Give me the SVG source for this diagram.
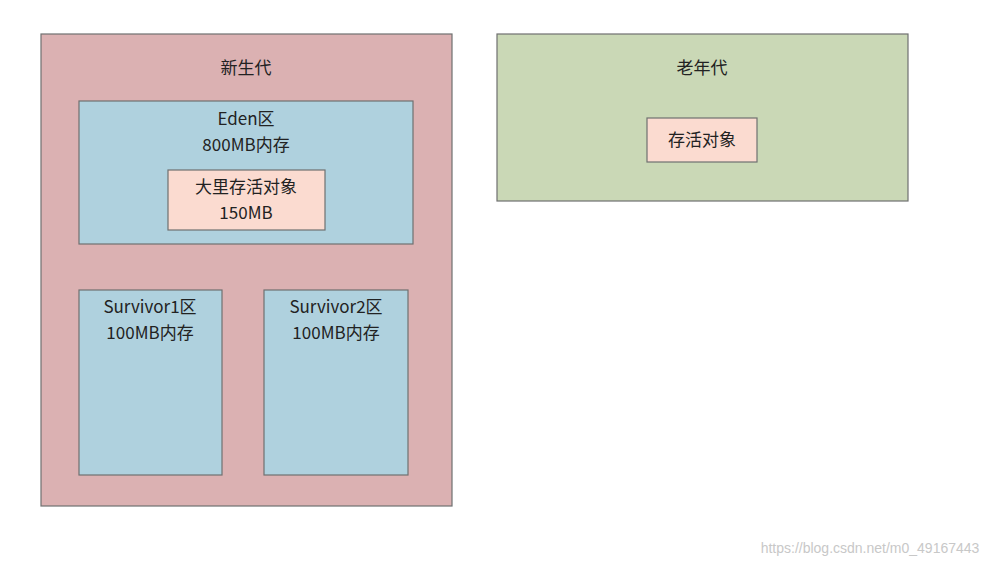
<svg xmlns="http://www.w3.org/2000/svg" width="1003" height="566" viewBox="0 0 1003 566">
<style>
rect{stroke:#6f7070;stroke-width:1.2}
text{font-family:"Noto Sans CJK SC","DejaVu Sans",sans-serif;font-size:17px;fill:#222;text-anchor:middle}
.p{fill:#dbb1b2}.b{fill:#afd1de}.o{fill:#fbdbd0}.g{fill:#cad8b6}
</style>
<rect x="0" y="0" width="1003" height="566" fill="#fff" style="stroke:none"/>
<g id="young"><rect class="p" x="41" y="34" width="411" height="472"/><text x="246" y="74">新生代</text></g>
<g id="eden"><rect class="b" x="79" y="101" width="334" height="143"/><text x="246" y="125">Eden区</text><text x="246" y="151">800MB内存</text></g>
<g id="live"><rect class="o" x="168" y="170" width="157" height="60"/><text x="246" y="193">大里存活对象</text><text x="246" y="219">150MB</text></g>
<g id="s1"><rect class="b" x="79" y="290" width="143" height="185"/><text x="150" y="313">Survivor1区</text><text x="150" y="339">100MB内存</text></g>
<g id="s2"><rect class="b" x="264" y="290" width="144" height="185"/><text x="336" y="313">Survivor2区</text><text x="336" y="339">100MB内存</text></g>
<g id="old"><rect class="g" x="497" y="34" width="411" height="167"/><text x="702" y="74">老年代</text></g>
<g id="oldobj"><rect class="o" x="647" y="118" width="110" height="44"/><text x="702" y="146">存活对象</text></g>
<g id="connectors"/>
<text x="870" y="553" style="font-size:14px;fill:#c8c8c8;font-family:'Liberation Sans',sans-serif">https://blog.csdn.net/m0_49167443</text>
</svg>
